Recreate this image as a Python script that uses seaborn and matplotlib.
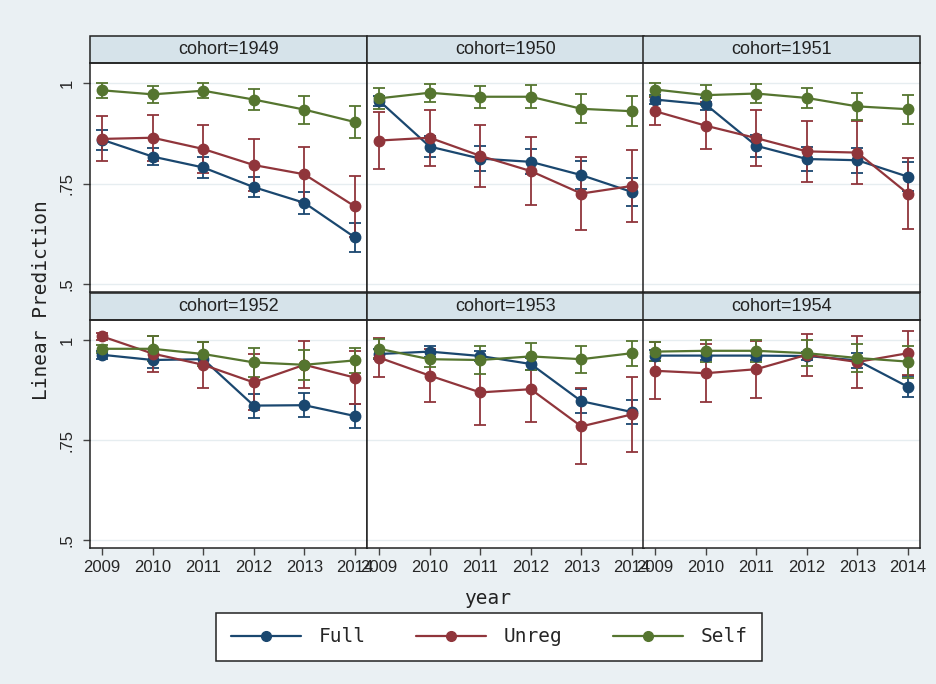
import pandas as pd
import seaborn as sns
import matplotlib.pyplot as plt
from matplotlib.lines import Line2D
from matplotlib.patches import Rectangle

cohorts = [1949, 1950, 1951, 1952, 1953, 1954]
years = [2009, 2010, 2011, 2012, 2013, 2014]
types = ["Full", "Unreg", "Self"]

# point estimates and CI half-widths, one row per cohort
full_est = [
    [0.859, 0.817, 0.790, 0.741, 0.702, 0.616],
    [0.956, 0.842, 0.812, 0.804, 0.771, 0.729],
    [0.959, 0.947, 0.844, 0.811, 0.808, 0.767],
    [0.963, 0.950, 0.952, 0.836, 0.837, 0.810],
    [0.965, 0.971, 0.960, 0.940, 0.847, 0.820],
    [0.961, 0.961, 0.961, 0.960, 0.949, 0.883],
]
full_ci = [
    [0.025, 0.022, 0.025, 0.025, 0.028, 0.036],
    [0.012, 0.026, 0.031, 0.031, 0.034, 0.035],
    [0.011, 0.015, 0.027, 0.029, 0.031, 0.036],
    [0.010, 0.021, 0.013, 0.030, 0.030, 0.031],
    [0.012, 0.013, 0.013, 0.016, 0.030, 0.030],
    [0.013, 0.011, 0.011, 0.010, 0.019, 0.026],
]
unreg_est = [
    [0.861, 0.864, 0.836, 0.796, 0.773, 0.693],
    [0.857, 0.864, 0.819, 0.781, 0.725, 0.744],
    [0.930, 0.894, 0.863, 0.830, 0.827, 0.725],
    [1.009, 0.966, 0.938, 0.894, 0.938, 0.906],
    [0.956, 0.911, 0.869, 0.877, 0.784, 0.814],
    [0.923, 0.917, 0.927, 0.963, 0.945, 0.967],
]
unreg_ci = [
    [0.056, 0.057, 0.060, 0.065, 0.068, 0.075],
    [0.071, 0.070, 0.077, 0.084, 0.090, 0.090],
    [0.035, 0.059, 0.070, 0.076, 0.078, 0.089],
    [0.009, 0.045, 0.058, 0.070, 0.059, 0.067],
    [0.048, 0.066, 0.081, 0.081, 0.095, 0.093],
    [0.071, 0.072, 0.071, 0.052, 0.064, 0.055],
]
self_est = [
    [0.982, 0.972, 0.981, 0.959, 0.934, 0.903],
    [0.962, 0.976, 0.966, 0.966, 0.936, 0.930],
    [0.984, 0.970, 0.974, 0.963, 0.942, 0.935],
    [0.978, 0.978, 0.965, 0.944, 0.938, 0.949],
    [0.978, 0.952, 0.950, 0.959, 0.952, 0.967],
    [0.971, 0.973, 0.973, 0.967, 0.955, 0.946],
]
self_ci = [
    [0.018, 0.021, 0.018, 0.027, 0.035, 0.040],
    [0.027, 0.022, 0.027, 0.028, 0.036, 0.038],
    [0.015, 0.024, 0.023, 0.026, 0.034, 0.036],
    [0.010, 0.031, 0.029, 0.036, 0.038, 0.032],
    [0.024, 0.019, 0.034, 0.034, 0.034, 0.031],
    [0.024, 0.027, 0.028, 0.033, 0.036, 0.040],
]

series = {"Full": (full_est, full_ci), "Unreg": (unreg_est, unreg_ci),
          "Self": (self_est, self_ci)}
rows = []
for t in types:
    est, ci = series[t]
    for i, c in enumerate(cohorts):
        for j, yr in enumerate(years):
            rows.append({"cohort": c, "year": yr, "type": t,
                         "est": est[i][j], "ci": ci[i][j]})
df = pd.DataFrame(rows)

colors = {"Full": "#1a476f", "Unreg": "#90353b", "Self": "#55752f"}
bg = "#eaf0f3"
strip_c = "#d6e3ea"
mono = ["DejaVu Sans Mono"]

sns.set_style("white")
plt.rcParams["font.family"] = ["Liberation Sans", "DejaVu Sans"]


def draw_series(x, y, err, color=None, label=None, **kws):
    ax = plt.gca()
    ax.errorbar(x, y, yerr=err, color=color, lw=1.6, marker="o", ms=7.5,
                capsize=4, elinewidth=1.3, capthick=1.3, label=label,
                zorder=3)


g = sns.FacetGrid(df, col="cohort", col_wrap=3, hue="type", hue_order=types,
                  palette=colors, sharex=True, sharey=True, despine=False,
                  height=3, aspect=1)
g.map(draw_series, "year", "est", "ci")

fig = g.figure
fig.set_size_inches(9.36, 6.84)
fig.set_dpi(100)
fig.patch.set_facecolor(bg)

W, H = 936, 684
lefts = [90, 367, 643]
width = 277
row_tb = [(63, 292), (320, 548)]
strip_px = 27

for k, ax in enumerate(g.axes.flat):
    r, c = divmod(k, 3)
    top, bot = row_tb[r]
    ax.set_position([lefts[c] / W, 1 - bot / H, width / W, (bot - top) / H])
    ax.set_facecolor("white")
    ax.set_xlim(2008.76, 2014.24)
    ax.set_ylim(0.48, 1.05)
    ax.set_yticks([0.5, 0.75, 1.0])
    ax.set_xticks(years)
    ax.yaxis.grid(True, color="#e6edf0", lw=1)
    ax.xaxis.grid(False)
    for s in ax.spines.values():
        s.set_color("#222222")
        s.set_linewidth(1.1)
    ax.set_title("")
    ax.set_xlabel("")
    ax.set_ylabel("")
    hgt = strip_px / (bot - top)
    ax.add_patch(Rectangle((0, 1), 1, hgt, transform=ax.transAxes,
                           facecolor=strip_c, edgecolor="#222222", lw=1.1,
                           clip_on=False))
    ax.text(0.5, 1 + hgt / 2, f"cohort={cohorts[k]}", transform=ax.transAxes,
            ha="center", va="center", fontsize=13, color="#222222")
    ax.tick_params(axis="x", direction="out", length=5, width=1,
                   color="#444444", labelsize=12, pad=4,
                   bottom=(r == 1), labelbottom=(r == 1))
    ax.tick_params(axis="y", direction="out", length=5, width=1,
                   color="#444444", labelsize=12, pad=6,
                   left=(c == 0), labelleft=(c == 0))
    if c == 0:
        ax.set_yticklabels([".5", ".75", "1"], rotation=90, va="center")

fig.text(42 / W, 1 - 300 / H, "Linear Prediction", rotation=90, ha="center",
         va="center", fontsize=14, family=mono, color="#222222")
fig.text(488 / W, 1 - 598 / H, "year", ha="center", va="center",
         fontsize=14, family=mono, color="#222222")

handles = [Line2D([0], [0], color=colors[t], lw=1.6, marker="o", ms=7)
           for t in types]
leg = fig.legend(handles, types, loc="center", ncol=3,
                 bbox_to_anchor=(489 / W, 1 - 637 / H), frameon=True,
                 fancybox=False, edgecolor="#222222", framealpha=1,
                 prop={"family": mono, "size": 14}, handlelength=3.6,
                 columnspacing=2.6, borderpad=0.75, handletextpad=0.9)
leg.get_frame().set_linewidth(1.1)

fig.savefig("out.png", dpi=100, facecolor=bg)
